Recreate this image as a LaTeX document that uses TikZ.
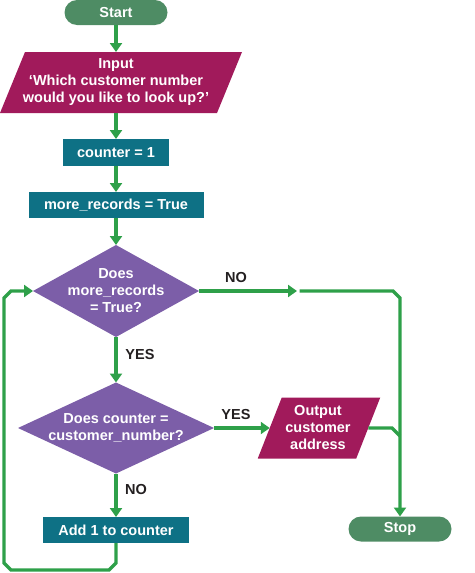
\documentclass[tikz,border=0pt]{standalone}
\usepackage{fontspec}
\setmainfont{Liberation Sans}
\usetikzlibrary{shapes.geometric,arrows.meta,calc}
\definecolor{termgreen}{HTML}{4E8C64}
\definecolor{magbox}{HTML}{A11A5B}
\definecolor{tealbox}{HTML}{0E7185}
\definecolor{purpbox}{HTML}{7C5EA8}
\definecolor{linegreen}{HTML}{2EA049}
\definecolor{labelc}{HTML}{231F20}
\tikzset{
  fnt/.style={font=\bfseries\fontsize{14.5}{17}\selectfont},
  term/.style={rectangle, rounded corners=12.5pt, fill=termgreen, minimum width=103pt, minimum height=25pt, inner sep=0pt, outer sep=0pt, text=white, fnt},
  proc/.style={rectangle, fill=tealbox, minimum height=26pt, inner sep=0pt, outer sep=0pt, text=white, fnt},
  dia/.style={diamond, fill=purpbox, inner sep=0pt, outer sep=0pt},
  pframe/.style={rectangle, inner sep=0pt, outer sep=0pt},
  txt/.style={text=white, align=center, inner sep=0pt, fnt},
  lbl/.style={text=labelc, inner sep=0pt, fnt},
  flow/.style={draw=linegreen, line width=3.3pt},
  tip/.style={-{Triangle[length=9pt,width=12pt]}}
}
\begin{document}
\begin{tikzpicture}[x=1pt,y=-1pt]
\useasboundingbox (0,0) rectangle (474,573);
% nodes
\node[term] (start) at (116,12.5) {Start};
\node[pframe, minimum width=217pt, minimum height=61pt] (in) at (121,82.5) {};
\fill[magbox] ($(in.north west)+(12.5,0)$) -- ($(in.north east)+(12.5,0)$) -- ($(in.south east)+(-12.5,0)$) -- ($(in.south west)+(-12.5,0)$) -- cycle;
\node[txt] (intxt) at (116,82.5) {Input\\‘Which customer number\\would you like to look up?’};
\node[proc, minimum width=106pt, minimum height=27pt] (cnt) at (116,152.5) {counter = 1};
\node[proc, minimum width=175pt] (mr) at (116,205) {more\_records = True};
\node[dia, minimum width=166pt, minimum height=92pt] (d1) at (116,291) {};
\node[txt] (d1txt) at (d1) {Does\\more\_records\\= True?};
\node[dia, minimum width=196pt, minimum height=91pt] (d2) at (116,428) {};
\node[txt] (d2txt) at (d2) {Does counter =\\customer\_number?};
\node[proc, minimum width=146pt] (add) at (116,530) {Add 1 to counter};
\node[pframe, minimum width=98.5pt, minimum height=61pt] (out) at (319,428) {};
\fill[magbox] ($(out.north west)+(12,0)$) -- ($(out.north east)+(12,0)$) -- ($(out.south east)+(-12,0)$) -- ($(out.south west)+(-12,0)$) -- cycle;
\node[txt] (outtxt) at (318,428) {Output\\customer\\address};
\node[term] (stop) at (400,529) {Stop};
% labels
\node[lbl] (no1) at (236,278) {NO};
\node[lbl] (yes1) at (140,355) {YES};
\node[lbl] (yes2) at (236,415) {YES};
\node[lbl] (no2) at (136,490) {NO};
% connectors
\draw[flow,tip] (start.south) -- (start.south |- in.north);
\draw[flow,tip] (cnt.north |- in.south) -- (cnt.north);
\draw[flow,tip] (cnt.south) -- (mr.north);
\draw[flow,tip] (mr.south) -- (d1.north);
\draw[flow,tip] (d1.south) -- (d2.north);
\draw[flow,tip] (d2.south) -- (add.north);
\draw[flow,tip] (d2.east) -- (out.west);
\coordinate (noa) at (297,291);
\coordinate (nob) at (299.5,291);
\draw[flow,tip] (d1.east) -- (noa);
\draw[flow,tip,line join=miter] (nob) -- ($(stop.north |- nob)+(-7,0)$) -- ($(stop.north |- nob)+(0,7)$) -- (stop.north);
\draw[flow] (out.east) -- ($(stop.north |- out.east)+(-8,0)$) -- ($(stop.north |- out.east)+(0,8)$);
\coordinate (lc) at (4,570);
\draw[flow,tip] (add.south) -- ($(add.south |- lc)+(0,-7)$) -- ($(add.south |- lc)+(-7,0)$) -- ($(lc)+(7,0)$) -- ($(lc)+(0,-7)$) -- ($(lc |- d1.west)+(0,7)$) -- ($(lc |- d1.west)+(7,0)$) -- (d1.west);
\end{tikzpicture}
\end{document}
